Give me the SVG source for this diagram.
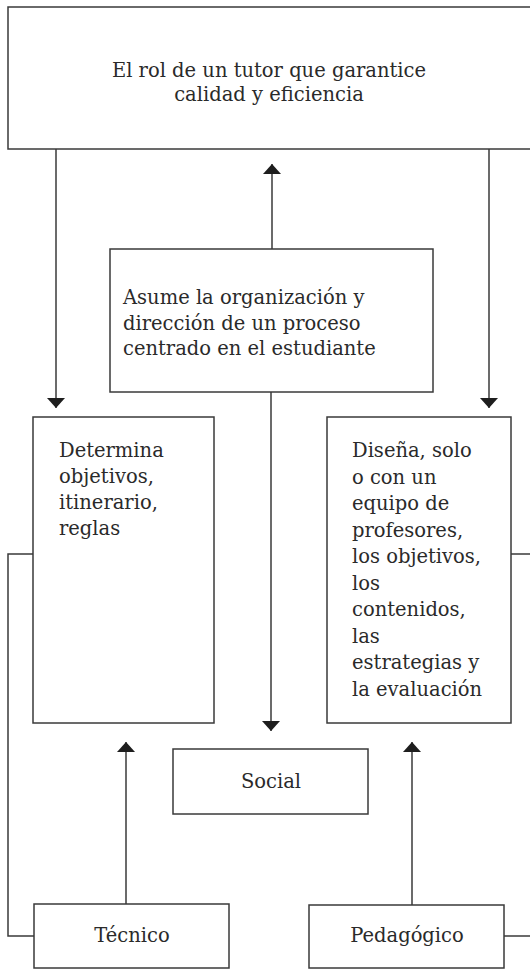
<svg xmlns="http://www.w3.org/2000/svg" width="530" height="969" viewBox="0 0 530 969">
<style>
.box{fill:#ffffff;stroke:#3a3a3a;stroke-width:1.5}
.ln{fill:none;stroke:#3a3a3a;stroke-width:1.5}
.t{font-family:"DejaVu Serif","Liberation Serif",serif;font-size:19.5px;fill:#2a2a2a}
.c{text-anchor:middle}
</style>
<defs>
<marker id="arr" viewBox="0 0 10 18" refX="10" refY="9" markerWidth="10" markerHeight="18" markerUnits="userSpaceOnUse" orient="auto">
<path d="M0,0 L10,9 L0,18 Z" fill="#1e1e1e"/>
</marker>
</defs>
<rect width="530" height="969" fill="#ffffff"/>
<g id="connectors">
<line class="ln" x1="56" y1="149" x2="56" y2="408" marker-end="url(#arr)"/>
<line class="ln" x1="489" y1="149" x2="489" y2="408" marker-end="url(#arr)"/>
<line class="ln" x1="272" y1="249" x2="272" y2="164" marker-end="url(#arr)"/>
<line class="ln" x1="271" y1="392" x2="271" y2="731" marker-end="url(#arr)"/>
<line class="ln" x1="126" y1="904" x2="126" y2="742" marker-end="url(#arr)"/>
<line class="ln" x1="412" y1="905" x2="412" y2="742" marker-end="url(#arr)"/>
<polyline class="ln" points="33,554 8,554 8,936 34,936"/>
<line class="ln" x1="511" y1="554" x2="530" y2="554"/>
<line class="ln" x1="504" y1="936" x2="530" y2="936"/>
</g>
<g id="node-top">
<rect class="box" x="8" y="7" width="530" height="142"/>
<text class="t c" x="269" y="77">El rol de un tutor que garantice</text>
<text class="t c" x="269" y="101">calidad y eficiencia</text>
</g>
<g id="node-asume">
<rect class="box" x="110" y="249" width="323" height="143"/>
<text class="t" x="123" y="304">Asume la organización y</text>
<text class="t" x="123" y="329.5">dirección de un proceso</text>
<text class="t" x="123" y="355">centrado en el estudiante</text>
</g>
<g id="node-determina">
<rect class="box" x="33" y="417" width="181" height="306"/>
<text class="t" x="59" y="457">Determina</text>
<text class="t" x="59" y="483">objetivos,</text>
<text class="t" x="59" y="509">itinerario,</text>
<text class="t" x="59" y="535">reglas</text>
</g>
<g id="node-disena">
<rect class="box" x="327" y="417" width="184" height="306"/>
<text class="t" x="352" y="457">Diseña, solo</text>
<text class="t" x="352" y="483.5">o con un</text>
<text class="t" x="352" y="510">equipo de</text>
<text class="t" x="352" y="536.5">profesores,</text>
<text class="t" x="352" y="563">los objetivos,</text>
<text class="t" x="352" y="589.5">los</text>
<text class="t" x="352" y="616">contenidos,</text>
<text class="t" x="352" y="642.5">las</text>
<text class="t" x="352" y="669">estrategias y</text>
<text class="t" x="352" y="695.5">la evaluación</text>
</g>
<g id="node-social">
<rect class="box" x="173" y="749" width="195" height="65"/>
<text class="t c" x="271" y="788">Social</text>
</g>
<g id="node-tecnico">
<rect class="box" x="34" y="904" width="195" height="64"/>
<text class="t c" x="132" y="942">Técnico</text>
</g>
<g id="node-pedagogico">
<rect class="box" x="309" y="905" width="195" height="63"/>
<text class="t c" x="407" y="942">Pedagógico</text>
</g>
</svg>
